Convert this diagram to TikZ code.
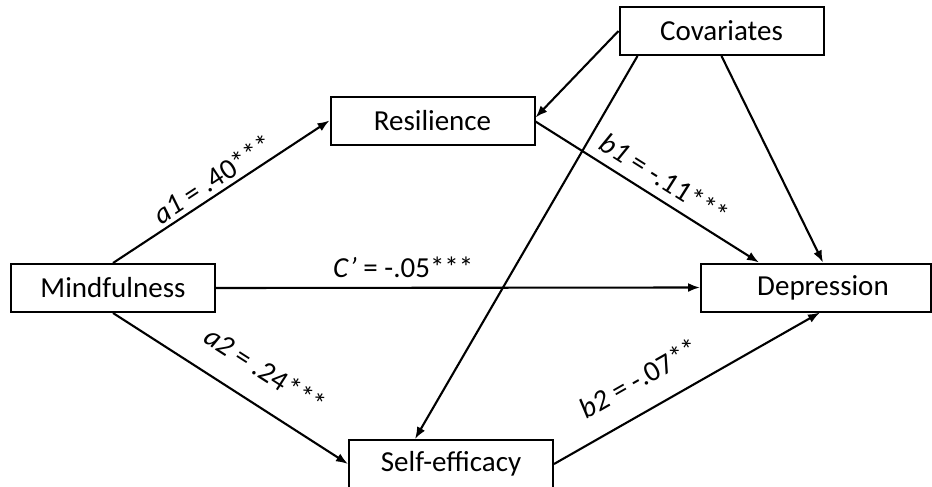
\documentclass[tikz,border=0pt]{standalone}
\usepackage{fontspec}
\setmainfont{Carlito}
\usetikzlibrary{arrows.meta,calc}
\begin{document}
\begin{tikzpicture}[x=1pt,y=-1pt,
  font=\fontsize{29}{34}\selectfont,
  box/.style={draw,line width=2pt,minimum width=204pt,minimum height=48pt,inner sep=2pt},
  arr/.style={line width=2.1pt,-{Latex[length=12pt,width=9pt]}},
  lab/.style={sloped,inner sep=0pt}]
\useasboundingbox (0,0) rectangle (932,487);
\fill[white] (0,0) rectangle (932,487);
\node[box] (mind) at (113,288) {Mindfulness};
\node[box] (res) at (432.5,120.5) {Resilience};
\node[box] (cov) at (721.5,31) {Covariates};
\node[box,minimum width=230pt] (dep) at (816,287.5) {\hspace*{14pt}Depression};
\node[box] (self) at (451,464) {Self-efficacy};
\draw[arr] (mind.north) -- (res.west)
  node[lab,pos=0.5,above=4pt] {\textit{a1} = .40***};
\draw[arr] (mind.south) -- (self.west)
  node[lab,pos=0.57,above=23pt] {\textit{a2} = .24***};
\draw[arr] (mind.east) -- (dep.west)
  node[lab,pos=0.387,above=9pt] {\textit{C’} = -.05***};
\draw[arr] ([yshift=-1pt]res.east) -- ($(dep.north west)+(59,0)$)
  node[lab,pos=0.53,above=9pt] {\textit{b1} = -.11***};
\draw[arr] (self.east) -- ($(dep.south)+(4,0)$)
  node[lab,pos=0.38,above=21pt] {\textit{b2} = -.07**};
\draw[arr] (cov.west) -- ([yshift=3pt]res.east);
\draw[arr] (cov.south) -- ($(dep.north)+(7,0)$);
\draw[arr] ($(cov.south west)+(19,0)$) -- ($(self.north west)+(67,0)$);
\end{tikzpicture}
\end{document}
